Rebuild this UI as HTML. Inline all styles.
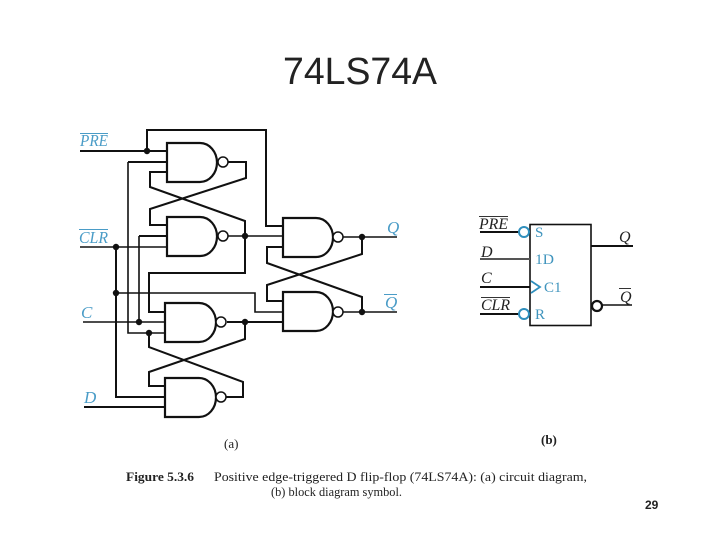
<!DOCTYPE html>
<html><head><meta charset="utf-8"><style>
html,body{margin:0;padding:0;background:#fff}
svg{display:block}
.t{font-family:"Liberation Serif",serif;fill:#222}
.l{font-family:"Liberation Serif",serif;font-style:italic;fill:#4a9cc7;font-size:17px}
.k{font-family:"Liberation Serif",serif;font-style:italic;fill:#222;font-size:16px}
.b{font-family:"Liberation Serif",serif;fill:#3f94bd;font-size:15px}
.w{fill:none;stroke:#111;stroke-width:1.600;stroke-linejoin:miter}
.h{fill:none;stroke:#111;stroke-width:2}
.g{fill:#fff;stroke:#111;stroke-width:2.200}
.o{fill:#fff;stroke:#111;stroke-width:1.500}
</style></head><body>
<svg width="720" height="540" viewBox="0 0 720 540" xmlns="http://www.w3.org/2000/svg">
<rect width="720" height="540" fill="#fff"/>
<text x="360" y="84" text-anchor="middle" textLength="154" lengthAdjust="spacingAndGlyphs" font-family="Liberation Sans, sans-serif" font-size="38" fill="#222">74LS74A</text>

<!-- wires -->
<path class="h" d="M80 151H167M147 151V130H266V226H283"/>
<path class="h" d="M167 162H128"/>
<path class="w" d="M128 162V333H165"/>
<path class="h" d="M228 162H246V178L150 209V225H167"/>
<path class="h" d="M167 172H150V187L245 221V236"/>
<path class="h" d="M167 236H139"/>
<path class="w" d="M139 236V322"/>
<path class="w" d="M80 247H167"/>
<path class="h" d="M116 247V397H165"/>
<path class="w" d="M227 236H283"/>
<path class="h" d="M245 236V273H149V312H165"/>
<path class="w" d="M116 293H255V312H283"/>
<path class="w" d="M83 322H165"/>
<path class="h" d="M227 322H283M245 322V339L149 372V386H165"/>
<path class="h" d="M149 333V347L243 382V397H226"/>
<path class="h" d="M84 407H165"/>
<path class="w" d="M343 237H397"/>
<path class="h" d="M362 237V254L267 285V301H283"/>
<path class="h" d="M283 247H267V263L362 297V312"/>
<path class="w" d="M343 312H397"/>

<!-- gates -->
<path class="g" d="M167 143H200A17 19.500 0 0 1 200 182H167Z"/>
<circle class="o" cx="223" cy="162" r="5"/>
<path class="g" d="M167 217H200A17 19.500 0 0 1 200 256H167Z"/>
<circle class="o" cx="223" cy="236" r="5"/>
<path class="g" d="M165 303H199A17 19.500 0 0 1 199 342H165Z"/>
<circle class="o" cx="221" cy="322" r="5"/>
<path class="g" d="M165 378H199A17 19.500 0 0 1 199 417H165Z"/>
<circle class="o" cx="221" cy="397" r="5"/>
<path class="g" d="M283 218H316A17 19.500 0 0 1 316 257H283Z"/>
<circle class="o" cx="338" cy="237" r="5"/>
<path class="g" d="M283 292H316A17 19.500 0 0 1 316 331H283Z"/>
<circle class="o" cx="338" cy="312" r="5"/>

<!-- dots -->
<g fill="#111">
<circle cx="147" cy="151" r="3.200"/><circle cx="116" cy="247" r="3.200"/><circle cx="245" cy="236" r="3.200"/>
<circle cx="116" cy="293" r="3.200"/><circle cx="139" cy="322" r="3.200"/><circle cx="149" cy="333" r="3.200"/>
<circle cx="245" cy="322" r="3.200"/><circle cx="362" cy="237" r="3.200"/><circle cx="362" cy="312" r="3.200"/>
</g>

<!-- circuit labels -->
<text class="l" x="80" y="146" textLength="28" lengthAdjust="spacingAndGlyphs">PRE</text>
<path d="M80 133.500H108" stroke="#4a9cc7" stroke-width="1"/>
<text class="l" x="79" y="243" textLength="29" lengthAdjust="spacingAndGlyphs">CLR</text>
<path d="M79 229.500H108" stroke="#4a9cc7" stroke-width="1"/>
<text class="l" x="81" y="318">C</text>
<text class="l" x="84" y="403">D</text>
<text class="l" x="387" y="233">Q</text>
<text class="l" x="385" y="308">Q</text>
<path d="M384 294.500H397" stroke="#4a9cc7" stroke-width="1"/>

<!-- block symbol -->
<rect x="530" y="224.500" width="61" height="101" fill="#fff" stroke="#111" stroke-width="1.600"/>
<path class="h" d="M480 232H519M480 314H519M480 287H530M591 246H633"/>
<path d="M480 259H530" stroke="#555" stroke-width="2" fill="none"/>
<path d="M602 305H632" stroke="#111" stroke-width="1.500" fill="none"/>
<circle cx="524" cy="232" r="5" fill="#fff" stroke="#2f8fbd" stroke-width="2"/>
<circle cx="524" cy="314" r="5" fill="#fff" stroke="#2f8fbd" stroke-width="2"/>
<circle cx="597" cy="306" r="5" fill="#fff" stroke="#111" stroke-width="2.200"/>
<path d="M531 281L540 287L531 293" fill="none" stroke="#2f8fbd" stroke-width="1.800"/>
<text class="b" x="535" y="237">S</text>
<text class="b" x="535" y="264" textLength="19" lengthAdjust="spacingAndGlyphs">1D</text>
<text class="b" x="544" y="292" font-size="14">C1</text>
<text class="b" x="535" y="319">R</text>
<text class="k" x="479" y="229" textLength="29" lengthAdjust="spacingAndGlyphs">PRE</text>
<path d="M479 216.500H508" stroke="#333" stroke-width="1"/>
<text class="k" x="481" y="257">D</text>
<text class="k" x="481" y="283">C</text>
<text class="k" x="481" y="310" textLength="29" lengthAdjust="spacingAndGlyphs">CLR</text>
<path d="M481 297.500H510" stroke="#333" stroke-width="1"/>
<text class="k" x="619" y="242">Q</text>
<text class="k" x="620" y="302">Q</text>
<path d="M619 288.500H631" stroke="#333" stroke-width="1"/>

<!-- captions -->
<text class="t" x="224" y="448" font-size="13">(a)</text>
<text class="t" x="541" y="444" font-size="13" font-weight="bold">(b)</text>
<text class="t" x="126" y="481" font-size="13" font-weight="bold" textLength="68" lengthAdjust="spacingAndGlyphs">Figure 5.3.6</text>
<text class="t" x="214" y="481" font-size="13" textLength="373" lengthAdjust="spacingAndGlyphs">Positive edge-triggered D flip-flop (74LS74A): (a) circuit diagram,</text>
<text class="t" x="271" y="496" font-size="13" textLength="131" lengthAdjust="spacingAndGlyphs">(b) block diagram symbol.</text>
<text x="645" y="509" font-family="Liberation Sans, sans-serif" font-size="12" font-weight="bold" fill="#222">29</text>
</svg>
</body></html>
